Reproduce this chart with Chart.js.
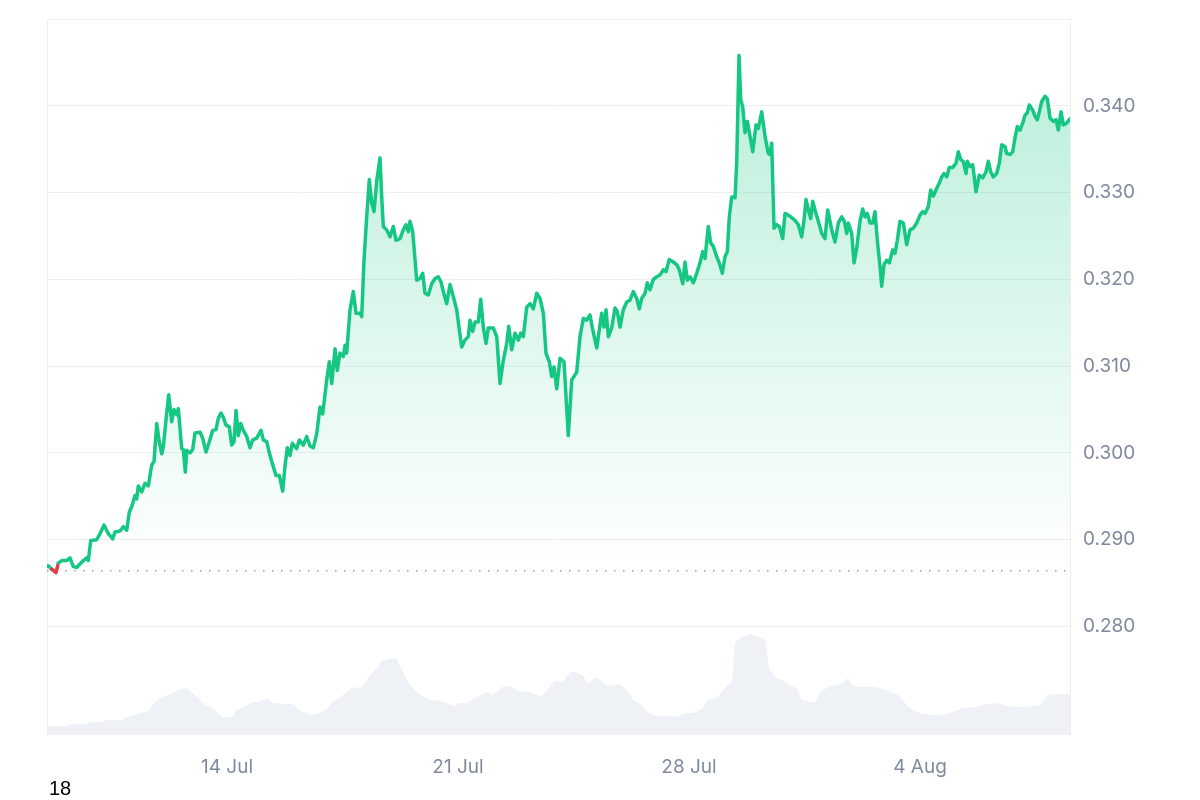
<!DOCTYPE html>
<html><head><meta charset="utf-8">
<script src="https://cdn.jsdelivr.net/npm/chart.js@4"></script>
<style>
html,body{margin:0;padding:0;background:#fff;}
#wrap{position:relative;width:1200px;height:800px;}
#note{position:absolute;left:49px;top:777px;font:20px "Liberation Sans",Arial,sans-serif;color:#000;}
</style></head><body>
<div id="wrap"><canvas id="c"></canvas><div id="note">18</div></div>
<script>
// time in July day numbers (32 = 1 Aug)
const xMin = 8.545, xMax = 39.545;
const yMin = 0.2675, yMax = 0.35;
const baselineValue = 0.28642;
const xTickValues = [14, 21, 28, 35];
const xTickLabels = ['14 Jul', '21 Jul', '28 Jul', '4 Aug'];
const yTickValues = [0.28, 0.29, 0.30, 0.31, 0.32, 0.33, 0.34];
const yTickLabels = ['0.280', '0.290', '0.300', '0.310', '0.320', '0.330', '0.340'];

const priceDays = [8.545,8.585,8.688,8.818,8.888,8.991,9.142,9.242,9.342,9.445,9.645,9.748,9.797,9.870,10.051,10.151,10.273,10.403,10.536,10.606,10.757,10.857,10.960,11.039,11.112,11.212,11.263,11.312,11.415,11.515,11.615,11.718,11.788,11.870,11.948,12.021,12.070,12.151,12.233,12.324,12.394,12.475,12.524,12.627,12.675,12.736,12.779,12.879,12.960,13.030,13.182,13.263,13.363,13.463,13.566,13.667,13.736,13.818,13.888,13.970,14.070,14.142,14.212,14.273,14.342,14.415,14.494,14.597,14.697,14.779,14.900,15.030,15.100,15.203,15.303,15.403,15.485,15.585,15.688,15.757,15.827,15.909,15.979,16.112,16.191,16.312,16.415,16.515,16.615,16.718,16.818,16.900,17.021,17.100,17.173,17.273,17.342,17.424,17.524,17.576,17.627,17.727,17.827,17.909,18.030,18.082,18.151,18.233,18.312,18.385,18.454,18.536,18.636,18.688,18.736,18.839,18.939,19.039,19.121,19.242,19.342,19.424,19.494,19.545,19.627,19.748,19.848,19.930,20.000,20.100,20.203,20.303,20.403,20.485,20.555,20.657,20.758,20.858,20.961,21.039,21.112,21.212,21.312,21.364,21.445,21.515,21.615,21.688,21.767,21.848,21.918,22.070,22.173,22.273,22.373,22.476,22.537,22.627,22.727,22.827,22.900,22.979,23.082,23.182,23.282,23.385,23.485,23.585,23.666,23.767,23.839,23.909,23.991,24.091,24.212,24.342,24.445,24.545,24.597,24.697,24.797,24.900,25.000,25.082,25.203,25.282,25.354,25.424,25.485,25.555,25.657,25.757,25.827,25.909,26.009,26.112,26.212,26.312,26.415,26.494,26.566,26.667,26.736,26.818,26.918,27.021,27.121,27.221,27.303,27.403,27.524,27.627,27.706,27.809,27.879,27.948,28.030,28.130,28.233,28.333,28.415,28.485,28.585,28.657,28.736,28.839,28.918,29.009,29.091,29.161,29.221,29.294,29.394,29.445,29.515,29.567,29.627,29.697,29.767,29.848,29.930,30.030,30.100,30.203,30.303,30.403,30.455,30.506,30.576,30.657,30.736,30.839,30.909,31.009,31.082,31.212,31.312,31.415,31.485,31.545,31.615,31.688,31.748,31.818,31.918,32.021,32.121,32.203,32.324,32.424,32.524,32.627,32.706,32.779,32.827,32.930,33.000,33.082,33.182,33.263,33.333,33.403,33.485,33.567,33.636,33.706,33.788,33.839,33.909,33.991,34.070,34.173,34.242,34.312,34.394,34.494,34.597,34.697,34.797,34.900,35.000,35.082,35.152,35.252,35.324,35.403,35.506,35.585,35.657,35.727,35.809,35.888,35.991,36.091,36.161,36.233,36.312,36.394,36.433,36.515,36.597,36.697,36.797,36.900,37.000,37.070,37.142,37.221,37.324,37.403,37.476,37.576,37.627,37.727,37.809,37.879,37.948,38.030,38.112,38.182,38.252,38.312,38.415,38.485,38.555,38.615,38.688,38.788,38.858,38.939,39.039,39.121,39.191,39.273,39.342,39.445,39.524,39.545];
const priceValues = [0.2869,0.2870,0.2866,0.2862,0.2873,0.2876,0.2876,0.2879,0.2869,0.2868,0.2876,0.2879,0.2876,0.2899,0.2900,0.2907,0.2917,0.2907,0.2901,0.2909,0.2910,0.2915,0.2911,0.2932,0.2938,0.2951,0.2947,0.2962,0.2955,0.2965,0.2962,0.2986,0.2990,0.3034,0.3013,0.2999,0.3007,0.3038,0.3067,0.3036,0.3050,0.3044,0.3051,0.3005,0.3004,0.2978,0.3003,0.3000,0.3004,0.3023,0.3024,0.3017,0.3001,0.3013,0.3026,0.3027,0.3040,0.3046,0.3041,0.3032,0.3030,0.3009,0.3013,0.3049,0.3020,0.3034,0.3026,0.3019,0.3006,0.3015,0.3017,0.3026,0.3015,0.3013,0.2997,0.2984,0.2974,0.2974,0.2956,0.2985,0.3006,0.2997,0.3011,0.3005,0.3015,0.3009,0.3019,0.3008,0.3006,0.3022,0.3053,0.3045,0.3084,0.3105,0.3080,0.3120,0.3095,0.3115,0.3111,0.3124,0.3115,0.3165,0.3186,0.3161,0.3161,0.3157,0.3222,0.3272,0.3315,0.3288,0.3278,0.3313,0.3340,0.3295,0.3261,0.3257,0.3249,0.3261,0.3245,0.3247,0.3257,0.3263,0.3255,0.3267,0.3255,0.3199,0.3201,0.3207,0.3184,0.3182,0.3195,0.3201,0.3203,0.3197,0.3186,0.3172,0.3194,0.3180,0.3165,0.3142,0.3122,0.3130,0.3134,0.3153,0.3140,0.3151,0.3151,0.3177,0.3145,0.3126,0.3144,0.3144,0.3134,0.3080,0.3107,0.3126,0.3146,0.3119,0.3138,0.3130,0.3138,0.3134,0.3168,0.3172,0.3166,0.3184,0.3178,0.3161,0.3115,0.3105,0.3088,0.3099,0.3074,0.3109,0.3105,0.3020,0.3084,0.3090,0.3093,0.3134,0.3155,0.3153,0.3159,0.3142,0.3121,0.3142,0.3161,0.3145,0.3165,0.3134,0.3144,0.3167,0.3163,0.3145,0.3165,0.3174,0.3176,0.3186,0.3178,0.3166,0.3178,0.3184,0.3196,0.3188,0.3200,0.3203,0.3205,0.3211,0.3209,0.3223,0.3220,0.3217,0.3211,0.3195,0.3220,0.3199,0.3203,0.3196,0.3207,0.3219,0.3232,0.3224,0.3261,0.3242,0.3238,0.3226,0.3219,0.3207,0.3226,0.3232,0.3272,0.3295,0.3294,0.3334,0.3458,0.3407,0.3399,0.3369,0.3382,0.3365,0.3347,0.3378,0.3374,0.3393,0.3365,0.3345,0.3344,0.3357,0.3259,0.3263,0.3261,0.3247,0.3276,0.3274,0.3272,0.3268,0.3263,0.3249,0.3268,0.3292,0.3280,0.3270,0.3290,0.3280,0.3267,0.3253,0.3247,0.3280,0.3257,0.3243,0.3265,0.3272,0.3267,0.3253,0.3265,0.3253,0.3219,0.3236,0.3267,0.3281,0.3272,0.3276,0.3265,0.3265,0.3278,0.3245,0.3215,0.3192,0.3217,0.3222,0.3219,0.3234,0.3230,0.3245,0.3267,0.3265,0.3240,0.3257,0.3259,0.3265,0.3274,0.3278,0.3276,0.3284,0.3303,0.3296,0.3305,0.3311,0.3318,0.3322,0.3318,0.3329,0.3329,0.3334,0.3347,0.3338,0.3336,0.3322,0.3336,0.3330,0.3332,0.3301,0.3320,0.3317,0.3324,0.3336,0.3324,0.3318,0.3322,0.3334,0.3355,0.3353,0.3345,0.3344,0.3347,0.3363,0.3376,0.3372,0.3380,0.3389,0.3392,0.3401,0.3395,0.3388,0.3384,0.3393,0.3405,0.3411,0.3408,0.3386,0.3382,0.3384,0.3372,0.3393,0.3378,0.3380,0.3384,0.3385];

const volumeDays = [8.545,9.182,9.303,9.757,9.848,10.212,10.273,10.848,10.970,11.273,11.606,11.818,12.061,12.333,12.576,12.788,13.091,13.333,13.545,13.848,14.152,14.303,14.545,14.758,15.0,15.212,15.394,15.697,16.0,16.273,16.424,16.515,16.818,17.03,17.212,17.515,17.788,18.091,18.333,18.545,18.697,18.879,19.121,19.303,19.485,19.697,20.061,20.212,20.606,20.848,21.061,21.273,21.455,21.879,22.061,22.333,22.576,22.879,23.091,23.394,23.545,23.788,23.939,24.182,24.394,24.545,24.758,24.939,25.212,25.394,25.606,25.909,26.121,26.303,26.576,26.758,27.03,27.333,27.636,27.818,28.242,28.424,28.576,28.848,29.03,29.303,29.394,29.606,29.848,30.152,30.303,30.364,30.424,30.545,30.667,30.848,31.061,31.273,31.424,31.727,31.818,31.970,32.273,32.485,32.667,32.818,32.970,33.273,33.636,33.879,34.394,34.636,34.909,35.091,35.394,35.697,36.0,36.303,36.727,36.909,37.333,37.636,38.121,38.424,38.636,38.848,39.182,39.485,39.545];
const volumeValues = [0.9,0.9,1.1,1.1,1.27,1.3,1.5,1.5,1.8,2.1,2.4,3.3,3.8,4.2,4.6,4.7,3.8,3.0,2.8,1.8,1.8,2.5,2.8,3.3,3.3,3.7,3.2,3.1,3.1,2.3,2.2,2.0,2.2,2.6,3.3,4.0,4.7,4.8,6.0,6.7,7.4,7.6,7.7,6.5,5.3,4.4,3.6,3.5,3.3,2.9,3.2,3.2,3.6,4.3,4.0,4.8,4.9,4.3,4.4,4.0,3.9,4.9,5.4,5.3,6.3,6.3,6.0,5.2,5.8,5.2,4.9,5.1,4.5,3.5,3.0,2.2,1.9,1.9,1.8,2.1,2.3,2.7,3.5,3.7,4.5,5.4,9.3,9.8,10.1,9.8,9.5,8.2,6.5,6.2,5.6,5.5,5.0,4.6,3.5,3.3,3.2,4.3,4.9,5.0,5.2,5.7,4.9,4.8,4.8,4.6,3.9,2.8,2.3,2.1,2.0,2.0,2.3,2.7,2.8,3.0,3.2,2.9,2.8,2.9,3.0,4.0,4.1,4.1,4.1];
const volumeAxisMax = 71.6;

const GREEN = '#16c784', RED = '#ea3943', TICK = '#808a9d', GRID = '#eceef1';

const pricePoints = priceDays.map((d, i) => ({x: d, y: priceValues[i]}));
const volumePoints = volumeDays.map((d, i) => ({x: d, y: volumeValues[i]}));
const basePoints = [{x: xMin, y: baselineValue}, {x: xMax, y: baselineValue}];

function areaGradient(ctx) {
  const chart = ctx.chart;
  const area = chart.chartArea;
  if (!area || !chart.scales.y) return 'rgba(22,199,132,0.15)';
  const yb = chart.scales.y.getPixelForValue(baselineValue);
  const g = chart.ctx.createLinearGradient(0, area.top, 0, yb);
  g.addColorStop(0, 'rgba(22,199,132,0.32)');
  g.addColorStop(1, 'rgba(22,199,132,0.0)');
  return g;
}

new Chart(document.getElementById('c'), {
  type: 'line',
  data: {
    datasets: [
      {
        data: pricePoints, yAxisID: 'y', borderColor: GREEN, borderWidth: 3.5,
        borderJoinStyle: 'round', borderCapStyle: 'round',
        pointRadius: 0, tension: 0, backgroundColor: areaGradient,
        fill: {target: {value: baselineValue}, below: 'rgba(234,57,67,0.12)'},
        segment: {
          borderColor: c => (c.p0.parsed.y < baselineValue || c.p1.parsed.y < baselineValue) ? RED : GREEN
        }
      },
      {
        data: basePoints, yAxisID: 'y', borderColor: '#9aa3b2', borderWidth: 1.6,
        borderDash: [1.5, 7.5], pointRadius: 0, fill: false
      },
      {
        data: volumePoints, yAxisID: 'yv', borderWidth: 0, pointRadius: 0,
        backgroundColor: '#eef1f5', fill: 'origin', tension: 0
      }
    ]
  },
  options: {
    responsive: true, maintainAspectRatio: false, animation: false,
    layout: {padding: {top: 19, left: 47, right: 0, bottom: 0}},
    plugins: {legend: {display: false}, tooltip: {enabled: false}},
    events: [],
    scales: {
      x: {
        type: 'linear', min: xMin, max: xMax,
        grid: {display: false, drawTicks: false}, border: {display: false},
        afterBuildTicks: s => { s.ticks = xTickValues.map(v => ({value: v})); },
        afterFit: s => { s.height = 65; s.paddingLeft = 0; s.paddingRight = 0; },
        ticks: {
          autoSkip: false, maxRotation: 0, padding: 21, color: TICK,
          font: {family: 'Inter', size: 19},
          callback: v => xTickLabels[xTickValues.indexOf(v)]
        }
      },
      y: {
        position: 'right', min: yMin, max: yMax,
        grid: {color: GRID, lineWidth: 1, drawTicks: false},
        border: {display: true, color: GRID},
        afterBuildTicks: s => { s.ticks = yTickValues.concat([yMax]).map(v => ({value: v})); },
        afterFit: s => { s.width = 130; s.paddingTop = 0; s.paddingBottom = 0; },
        ticks: {
          padding: 13, color: TICK, font: {family: 'Inter', size: 19},
          callback: (v, i) => (i < yTickLabels.length ? yTickLabels[i] : '')
        }
      },
      yv: {
        position: 'left', min: 0, max: volumeAxisMax,
        grid: {display: false, drawTicks: false},
        border: {display: true, color: GRID},
        ticks: {display: false},
        afterFit: s => { s.width = 0; s.paddingTop = 0; s.paddingBottom = 0; }
      }
    }
  }
});
</script>
</body></html>
